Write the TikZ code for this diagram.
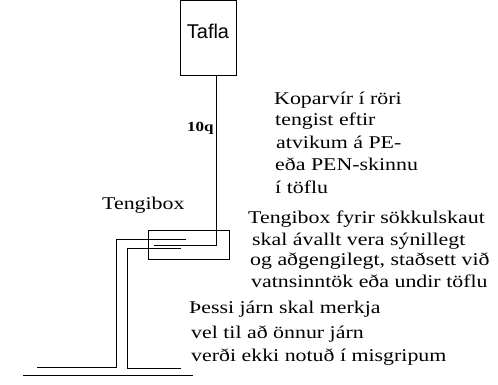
\documentclass[tikz,border=0pt]{standalone}
\usepackage{fontspec}
\setmainfont[FakeStretch=1.22]{Liberation Serif}
\newfontfamily\sansfont{Liberation Sans}
\tikzstyle{box}=[
  draw,
  thick,
  inner sep=0pt,
  ]
\tikzstyle{wire}=[ thick, ]
\tikzstyle{note}=[ anchor=base west, inner sep=0pt, font=\fontsize{18}{18}\selectfont, ]
\begin{document}
\begin{tikzpicture}[x=1bp,y=-1bp]
    \useasboundingbox (0,0) rectangle (498,384);
    \node[box, minimum width=56bp, minimum height=75bp, font=\sansfont\fontsize{20}{20}\selectfont] (tafla) at (208,37.5) {\raisebox{6bp}[0.7em][0pt]{Tafla}};
    \node[box, minimum width=81bp, minimum height=29bp] (tbox) at (188.5,244.5) {};
    \coordinate (c1) at (216,245);
    \coordinate (c2) at (154,245);
    \draw[wire] (tafla.south -| c1) -- (c1) -- (c2);

    \coordinate (a1) at (186,239);
    \coordinate (a2) at (116,239);
    \coordinate (a3) at (116,367);
    \coordinate (a4) at (37,367);
    \draw[wire] (a1) -- (a2) -- (a3) -- (a4);

    \coordinate (b1) at (181,248);
    \coordinate (b2) at (127,248);
    \coordinate (b3) at (127,368);
    \coordinate (b4) at (181,368);
    \draw[wire] (b1) -- (b2) -- (b3) -- (b4);

    \coordinate (g1) at (23,375);
    \coordinate (g2) at (193,375);
    \draw[wire] (g1) -- (g2);

    \node[note, font=\fontsize{14}{14}\selectfont\bfseries] (n10q) at (187,131) {10q};
    \node[note] (tbl) at (102,209) {Tengibox};

    \node[note] (k1) at (274,104) {Koparvír í röri};
    \node[note] (k2) at (275,125) {tengist eftir};
    \node[note] (k3) at (276,148) {atvikum á PE-};
    \node[note] (k4) at (275,170) {eða  PEN-skinnu};
    \node[note] (k5) at (275,193) {í töflu};

    \node[note] (t1) at (248,223) {Tengibox fyrir sökkulskaut};
    \node[note] (t2) at (252,245) {skal ávallt vera sýnillegt};
    \node[note] (t3) at (250,265) {og aðgengilegt, staðsett við};
    \node[note] (t4) at (251,287) {vatnsinntök eða undir töflu};

    \node[note] (p1) at (189,313) {Þessi járn skal merkja};
    \node[note] (p2) at (191,338) {vel til að önnur járn};
    \node[note] (p3) at (191,361) {verði ekki notuð í misgripum};
\end{tikzpicture}
\end{document}
